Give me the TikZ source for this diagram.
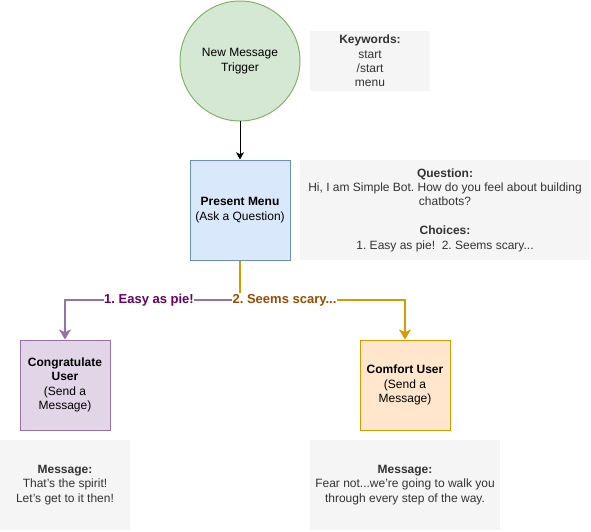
\documentclass[tikz,border=0pt]{standalone}
\usepackage{fontspec}
\setmainfont{Liberation Sans}
\frenchspacing
\usetikzlibrary{arrows.meta}
\definecolor{gfill}{HTML}{D5E8D4}
\definecolor{gstroke}{HTML}{82B366}
\definecolor{bfill}{HTML}{DAE8FC}
\definecolor{bstroke}{HTML}{6C8EBF}
\definecolor{pfill}{HTML}{E1D5E7}
\definecolor{pstroke}{HTML}{9673A6}
\definecolor{ofill}{HTML}{FFE6CC}
\definecolor{ostroke}{HTML}{D79B00}
\definecolor{notefill}{HTML}{F5F5F5}
\definecolor{notetext}{HTML}{333333}
\definecolor{ptext}{HTML}{660066}
\definecolor{otext}{HTML}{994C00}
\begin{document}
\frenchspacing
\begin{tikzpicture}[x=0.75pt,y=-0.75pt,
  font=\fontsize{9}{10.8}\selectfont,
  shape box/.style={draw, line width=0.75pt, inner sep=1pt, align=center},
  note/.style={fill=notefill, text=notetext, inner sep=1pt, align=center},
  lbl/.style={fill=white, inner sep=0.5pt, font=\fontsize{9.75}{11.7}\selectfont\bfseries},
  conn/.style={line width=1.5pt, -{Triangle[length=7.5pt,width=9pt,inset=2pt]}},
]
\useasboundingbox (0,0) rectangle (591,531);

\node[circle, draw=gstroke, fill=gfill, line width=0.75pt, minimum size=90pt, inner sep=0pt, align=center] (trig) at (240,61) {New Message\\Trigger};
\node[note, minimum width=90pt, minimum height=45pt] (kw) at (370,61) {\textbf{Keywords:}\\start\\/start\\menu};

\node[shape box, draw=bstroke, fill=bfill, minimum width=75pt, minimum height=75pt] (menu) at (240,210) {\textbf{Present Menu}\\(Ask a Question)};
\node[note, minimum width=217.5pt, minimum height=75pt] (q) at (445,210) {\textbf{Question:}\\Hi, I am Simple Bot. How do you feel about building\\chatbots?\\[10.8pt]\textbf{Choices:}\\1. Easy as pie!\ \ 2. Seems scary...};

\node[shape box, draw=pstroke, fill=pfill, minimum width=67.5pt, minimum height=67.5pt] (cong) at (65,385) {\textbf{Congratulate}\\\textbf{User}\\(Send a\\Message)};
\node[shape box, draw=ostroke, fill=ofill, minimum width=67.5pt, minimum height=67.5pt] (comf) at (405,385) {\textbf{Comfort User}\\(Send a\\Message)};

\node[note, minimum width=97.5pt, minimum height=67.5pt] (m1) at (65,485) {\textbf{Message:}\\That's the spirit!\\Let's get to it then!};
\node[note, minimum width=142.5pt, minimum height=67.5pt] (m2) at (405,485) {\textbf{Message:}\\Fear not...we're going to walk you\\through every step of the way.};

\coordinate (split) at (240,300);

\draw[line width=0.75pt, -{Triangle[length=5.5pt,width=6pt,inset=1.5pt]}] (trig) -- (menu);
\draw[conn, pstroke] (split) -| (cong.north) node[lbl, text=ptext, pos=0.26] {1. Easy as pie!};
\draw[conn, ostroke] (menu.south) -- (split) -| (comf.north) node[lbl, text=otext, pos=0.135] {2. Seems scary...};
\end{tikzpicture}
\end{document}
